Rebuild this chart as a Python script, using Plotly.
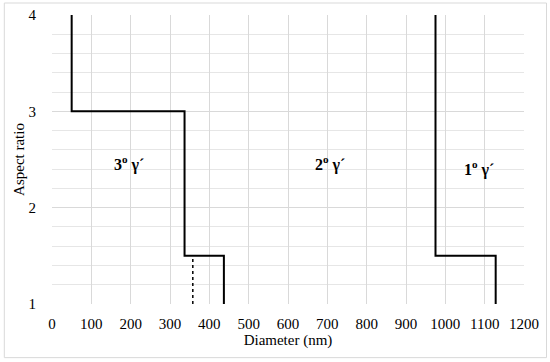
import plotly.graph_objects as go

# 3º γ´ boundary (solid)
x_third = [50, 50, 337, 337, 437, 437]
y_third = [4, 3, 3, 1.5, 1.5, 1]
# 3º γ´ dotted drop
x_dot = [358, 358]
y_dot = [1, 1.48]
# 1º γ´ boundary
x_first = [975, 975, 1128, 1128]
y_first = [4, 1.5, 1.5, 1]

labels = ["3º γ´", "2º γ´", "1º γ´"]
label_x = [196, 708, 1086]
label_y = [2.46, 2.46, 2.41]

SERIF = "Liberation Serif"
GRID = "#d9d9d9"

fig = go.Figure()
fig.add_trace(go.Scatter(x=x_third, y=y_third, mode="lines",
                         line=dict(color="black", width=2), showlegend=False))
fig.add_trace(go.Scatter(x=x_dot, y=y_dot, mode="lines",
                         line=dict(color="black", width=1.5, dash="dot"), showlegend=False))
fig.add_trace(go.Scatter(x=x_first, y=y_first, mode="lines",
                         line=dict(color="black", width=2), showlegend=False))

for t, xx, yy in zip(labels, label_x, label_y):
    num, rest = t.split("º")
    fig.add_annotation(x=xx, y=yy, text=f"<b>{num}<sup>o</sup>{rest}</b>",
                       showarrow=False, font=dict(family=SERIF, size=16, color="black"))

# light frame around the whole figure
fig.add_shape(type="rect", xref="paper", yref="paper",
              x0=-0.101, x1=1.0477, y0=-0.1856, y1=1.0415,
              line=dict(color="#d9d9d9", width=1))

fig.update_layout(
    width=550, height=362,
    margin=dict(l=52, r=26, t=15, b=58, autoexpand=False),
    paper_bgcolor="white", plot_bgcolor="white",
    font=dict(family=SERIF, size=15, color="black"),
    xaxis=dict(range=[0, 1200], dtick=100, showgrid=True, gridcolor=GRID, gridwidth=1,
               zeroline=False, showline=False, automargin=False,
               ticks="outside", ticklen=6, tickcolor="rgba(0,0,0,0)",
               tickfont=dict(family=SERIF, size=15, color="black"),
               title=dict(text="Diameter (nm)", font=dict(family=SERIF, size=15), standoff=3)),
    yaxis=dict(range=[1, 4], dtick=1, showgrid=True, gridcolor=GRID, gridwidth=1,
               minor=dict(dtick=0.2, showgrid=True, gridcolor="#e6e6e6", gridwidth=1),
               zeroline=False, showline=False, automargin=False,
               ticks="outside", ticklen=12, tickcolor="rgba(0,0,0,0)",
               tickfont=dict(family=SERIF, size=15, color="black"),
               title=dict(text="Aspect ratio", font=dict(family=SERIF, size=15), standoff=0)),
)

# page body has a default 8px margin; drop it so the figure sits at the corner
fig.write_html("out.html", config={"displayModeBar": False},
               post_script="document.body.style.margin='0';")
